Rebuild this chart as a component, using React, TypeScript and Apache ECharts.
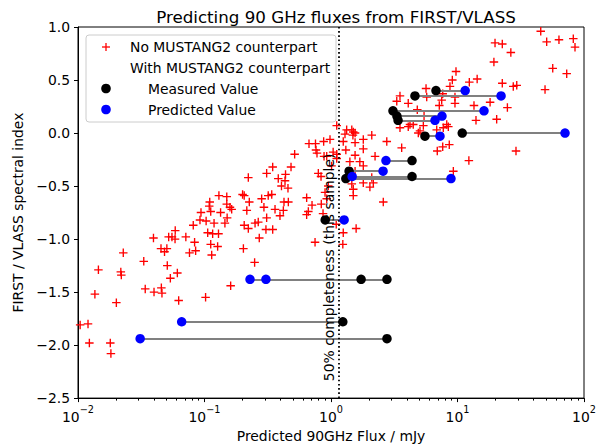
import React, { useEffect, useRef } from 'react';
import * as echarts from 'echarts';

// Sources without a MUSTANG2 counterpart: predicted 90 GHz flux (mJy) and spectral index
const RED_FLUX = [
  0.0104, 0.012, 0.0123, 0.018, 0.0182, 0.0136, 0.0201, 0.0145, 0.0218, 0.022,
  0.0228, 0.0331, 0.034, 0.0399, 0.0456, 0.0461, 0.0625, 0.102, 0.0508, 0.061,
  0.0537, 0.161, 0.249, 0.0395, 0.0521, 0.0553, 0.0585, 0.0587, 0.0712, 0.0835,
  0.106, 0.116, 0.129, 0.112, 0.127, 0.0453, 0.0504, 0.0483, 0.0761, 0.0851,
  0.114, 0.222, 0.31, 0.13, 0.15, 0.2, 0.206, 0.226, 0.283, 0.319,
  0.11, 0.109, 0.15, 0.159, 0.164, 0.216, 0.295, 0.0938, 0.112, 0.134,
  0.151, 0.0921, 0.103, 0.119, 0.145, 0.0815, 0.206, 0.222, 0.251, 0.266,
  0.31, 0.306, 0.271, 0.203, 1.11, 0.67, 0.754, 0.875, 0.982, 0.761,
  0.775, 0.881, 0.516, 1.11, 0.794, 0.834, 0.483, 0.346, 0.383, 0.437,
  0.433, 0.406, 0.457, 0.34, 0.425, 0.46, 0.642, 0.708, 0.361, 0.42,
  0.395, 0.642, 0.662, 0.838, 0.346, 0.748, 0.865, 1.33, 1.46, 1.5,
  1.55, 1.49, 1.29, 1.25, 1.55, 1.8, 2.1, 2.76, 3.62, 1.31,
  1.04, 1.8, 0.925, 1.11, 1.55, 2.23, 1.41, 1.69, 1.01, 1.8,
  1.55, 2.1, 1.8, 2.16, 2.03, 1.46, 1.5, 1.5, 0.952, 0.897,
  0.925, 2.59, 1.1, 1.25, 1.58, 1.24, 3.31, 4.08, 3.51, 4.21,
  5.05, 45.5, 50.7, 63.4, 82.3, 84.9, 19.8, 22.6, 26.4, 19.4,
  56.6, 73.0, 49.2, 9.73, 9.1, 8.72, 12.4, 14.3, 22.6, 27.6,
  29.4, 5.64, 5.71, 7.64, 9.55, 9.55, 7.5, 7.18, 13.5, 18.1,
  24.8, 14.0, 20.4, 4.81, 5.44, 8.22, 8.46, 7.72, 4.47, 4.08,
  5.37, 4.9, 6.85, 8.61, 7.64, 6.92, 29.0, 12.3, 3.51, 9.27,
  1.37,
];
const RED_INDEX = [
  -1.81, -1.8, -1.98, -1.98, -2.08, -1.52, -1.6, -1.29, -1.31, -1.34,
  -1.13, -1.21, -1.47, -1.5, -1.46, -1.51, -1.58, -1.55, -1.25, -1.32,
  -1.37, -1.44, -1.22, -0.99, -0.98, -0.98, -1.0, -0.92, -0.98, -1.03,
  -0.94, -0.95, -0.95, -1.05, -1.07, -1.09, -1.09, -1.12, -1.13, -1.11,
  -1.15, -0.42, -0.38, -0.59, -0.6, -0.58, -0.59, -0.65, -0.62, -0.59,
  -0.65, -0.69, -0.67, -0.7, -0.72, -0.73, -0.7, -0.75, -0.74, -0.75,
  -0.8, -0.82, -0.83, -0.85, -0.85, -0.87, -0.87, -0.9, -0.85, -0.84,
  -0.8, -0.91, -0.99, -1.09, 0.07, -0.1, -0.1, -0.08, -0.06, -0.16,
  -0.19, -0.22, -0.2, -0.2, -0.38, -0.41, -0.32, -0.32, -0.43, -0.39,
  -0.45, -0.5, -0.52, -0.58, -0.65, -0.65, -0.61, -0.68, -0.72, -0.73,
  -0.78, -0.77, -0.74, -0.67, -0.91, -1.03, -0.76, 0.03, 0.03, 0.01,
  0.0, -0.02, -0.01, -0.08, -0.09, -0.06, -0.02, -0.08, -0.14, -0.16,
  -0.18, -0.15, -0.22, -0.24, -0.21, -0.22, -0.27, -0.27, -0.31, -0.31,
  -0.36, -0.42, -0.47, -0.47, -0.51, -0.48, -0.53, -0.59, -0.5, -0.56,
  -0.62, -0.65, -0.86, -0.94, -0.9, -1.05, 0.3, 0.28, 0.05, 0.08,
  0.02, 0.96, 0.86, 0.88, 0.89, 0.81, 0.85, 0.84, 0.76, 0.67,
  0.61, 0.56, 0.41, 0.58, 0.5, 0.44, 0.48, 0.51, 0.47, 0.44,
  0.45, 0.42, 0.34, 0.37, 0.34, 0.28, 0.31, 0.26, 0.26, 0.29,
  0.24, 0.12, 0.13, 0.22, 0.16, 0.08, 0.06, 0.05, 0.08, 0.06,
  0.07, 0.0, 0.03, -0.11, -0.13, -0.17, -0.17, -0.26, 0.35, -0.36,
  -0.42,
];

// Sources with a MUSTANG2 counterpart
const MEASURED_FLUX = [6.76, 4.61, 3.09, 3.32, 3.39, 5.53, 10.9, 4.37, 1.39, 1.31, 4.37, 0.9, 2.77, 1.73, 1.24, 2.77];
const PREDICTED_FLUX = [11.5, 22.1, 16.2, 7.54, 6.64, 7.27, 70.8, 2.72, 2.58, 8.88, 1.47, 1.27, 0.229, 0.306, 0.066, 0.031];
const PAIR_INDEX = [0.4, 0.35, 0.21, 0.16, 0.12, -0.03, 0.0, -0.26, -0.36, -0.43, -0.41, -0.82, -1.38, -1.38, -1.78, -1.94];

const X_TICKS = [0.01, 0.1, 1, 10, 100];
const X_MINOR_TICKS: number[] = [];
for (const decade of [0.01, 0.1, 1, 10]) {
  for (let m = 2; m <= 9; m++) X_MINOR_TICKS.push(+(decade * m).toPrecision(3));
}
const COMPLETENESS_FLUX = 1.15;
const COMPLETENESS_TEXT_Y = -2.34;

const FONT = 'DejaVu Sans';
const PLUS_PATH =
  'path://M-0.16,-1L0.16,-1L0.16,-0.16L1,-0.16L1,0.16L0.16,0.16L0.16,1L-0.16,1L-0.16,0.16L-1,0.16L-1,-0.16L-0.16,-0.16Z';

export default function App() {
  const ref = useRef<HTMLDivElement>(null);
  useEffect(() => {
    const chart = echarts.init(ref.current!, null, { renderer: 'svg' });
    const option: any = {
      animation: false,
      backgroundColor: '#fff',
      textStyle: { fontFamily: FONT },
      title: {
        text: 'Predicting 90 GHz fluxes from FIRST/VLASS',
        left: 331,
        top: 3,
        textAlign: 'center',
        textStyle: { fontFamily: FONT, fontSize: 16.7, fontWeight: 'normal', color: '#000' },
      },
      grid: {
        left: 78,
        right: 16,
        top: 27,
        bottom: 48,
        show: true,
        borderColor: '#000',
        borderWidth: 1,
        backgroundColor: 'transparent',
      },
      xAxis: [
        {
          type: 'log',
          logBase: 10,
          min: 0.01,
          max: 100,
          name: 'Predicted 90GHz Flux / mJy',
          nameLocation: 'middle',
          nameGap: 29,
          nameTextStyle: { fontFamily: FONT, fontSize: 13.9, color: '#000' },
          axisLine: { show: true, onZero: false, lineStyle: { color: '#000', width: 1 } },
          axisTick: { show: true, customValues: X_TICKS, length: 4, lineStyle: { color: '#000' } },
          axisLabel: {
            customValues: X_TICKS,
            margin: 6,
            color: '#000',
            formatter: (v: number) => {
              const e = Math.round(Math.log10(v));
              return `{b|10}{s|${e < 0 ? '\u2212' + -e : e}}`;
            },
            rich: {
              b: { fontFamily: FONT, fontSize: 13.9, color: '#000', lineHeight: 20, verticalAlign: 'bottom' },
              s: { fontFamily: FONT, fontSize: 9.7, color: '#000', lineHeight: 20, verticalAlign: 'top' },
            },
          },
          splitLine: { show: false },
        },
        {
          type: 'log',
          logBase: 10,
          min: 0.01,
          max: 100,
          gridIndex: 0,
          position: 'bottom',
          axisLine: { show: false, onZero: false },
          axisTick: { show: true, customValues: X_MINOR_TICKS, length: 2.5, lineStyle: { color: '#000' } },
          axisLabel: { show: false },
          splitLine: { show: false },
        },
      ],
      yAxis: {
        type: 'value',
        min: -2.5,
        max: 1.0,
        interval: 0.5,
        name: 'FIRST / VLASS spectral index',
        nameLocation: 'middle',
        nameGap: 50,
        nameTextStyle: { fontFamily: FONT, fontSize: 13.9, color: '#000' },
        axisLine: { show: true, onZero: false, lineStyle: { color: '#000', width: 1 } },
        axisTick: { show: true, length: 4, lineStyle: { color: '#000' } },
        axisLabel: {
          margin: 8,
          color: '#000',
          fontFamily: FONT,
          fontSize: 13.9,
          formatter: (v: number) => v.toFixed(1).replace('-', '\u2212'),
        },
        splitLine: { show: false },
      },
      series: [
        {
          name: 'No MUSTANG2 counterpart',
          type: 'scatter',
          xAxisIndex: 0,
          symbol: PLUS_PATH,
          symbolSize: 8.5,
          itemStyle: { color: '#ff0000', opacity: 1 },
          data: RED_FLUX.map((f, i) => [f, RED_INDEX[i]]),
          z: 2,
          markLine: {
            silent: true,
            symbol: ['none', 'none'],
            label: { show: false },
            lineStyle: { color: '#000', type: [1.6, 2.6], width: 1.8 },
            data: [{ xAxis: COMPLETENESS_FLUX }],
          },
        },
        {
          name: 'pairs',
          type: 'lines',
          coordinateSystem: 'cartesian2d',
          xAxisIndex: 0,
          lineStyle: { color: '#808080', width: 2, opacity: 1 },
          data: MEASURED_FLUX.map((m, i) => ({
            coords: [
              [m, PAIR_INDEX[i]],
              [PREDICTED_FLUX[i], PAIR_INDEX[i]],
            ],
          })),
          z: 3,
        },
        {
          name: 'Measured Value',
          type: 'scatter',
          xAxisIndex: 0,
          symbol: 'circle',
          symbolSize: 9.5,
          itemStyle: { color: '#000000', opacity: 1 },
          data: MEASURED_FLUX.map((m, i) => [m, PAIR_INDEX[i]]),
          z: 4,
        },
        {
          name: 'Predicted Value',
          type: 'scatter',
          xAxisIndex: 0,
          symbol: 'circle',
          symbolSize: 9.5,
          itemStyle: { color: '#0000ff', opacity: 1 },
          data: PREDICTED_FLUX.map((p, i) => [p, PAIR_INDEX[i]]),
          z: 5,
        },
      ],
    };
    chart.setOption(option);

    const p = chart.convertToPixel({ gridIndex: 0 }, [COMPLETENESS_FLUX, COMPLETENESS_TEXT_Y]) as number[];
    const legendFont = `13.9px "${FONT}"`;
    chart.setOption({
      graphic: [
        {
          type: 'text',
          x: p[0] - 3,
          y: p[1],
          rotation: Math.PI / 2,
          z: 10,
          style: {
            text: '50% completeness (this sample)',
            font: legendFont,
            fill: '#000',
            align: 'left',
            verticalAlign: 'bottom',
          },
        },
        {
          type: 'group',
          z: 20,
          children: [
            {
              type: 'rect',
              shape: { x: 86, y: 35, width: 250, height: 87, r: 3 },
              style: { fill: 'rgba(255,255,255,0.85)', stroke: '#cccccc', lineWidth: 1 },
            },
            {
              type: 'line',
              shape: { x1: 102, y1: 47, x2: 110, y2: 47 },
              style: { stroke: '#ff0000', lineWidth: 1.3 },
            },
            {
              type: 'line',
              shape: { x1: 106, y1: 43, x2: 106, y2: 51 },
              style: { stroke: '#ff0000', lineWidth: 1.3 },
            },
            { type: 'circle', shape: { cx: 106, cy: 88.5, r: 4.8 }, style: { fill: '#000000' } },
            { type: 'circle', shape: { cx: 106, cy: 109.5, r: 4.8 }, style: { fill: '#0000ff' } },
            {
              type: 'text',
              x: 130,
              y: 47,
              style: { text: 'No MUSTANG2 counterpart', font: legendFont, fill: '#000', verticalAlign: 'middle' },
            },
            {
              type: 'text',
              x: 130,
              y: 68,
              style: { text: 'With MUSTANG2 counterpart', font: legendFont, fill: '#000', verticalAlign: 'middle' },
            },
            {
              type: 'text',
              x: 148,
              y: 88.5,
              style: { text: 'Measured Value', font: legendFont, fill: '#000', verticalAlign: 'middle' },
            },
            {
              type: 'text',
              x: 148,
              y: 109.5,
              style: { text: 'Predicted Value', font: legendFont, fill: '#000', verticalAlign: 'middle' },
            },
          ],
        },
      ],
    });
    return () => chart.dispose();
  }, []);
  return (
    <div
      ref={ref}
      style={{ position: 'fixed', left: 0, top: 0, width: 600, height: 448, background: '#fff' }}
    />
  );
}
